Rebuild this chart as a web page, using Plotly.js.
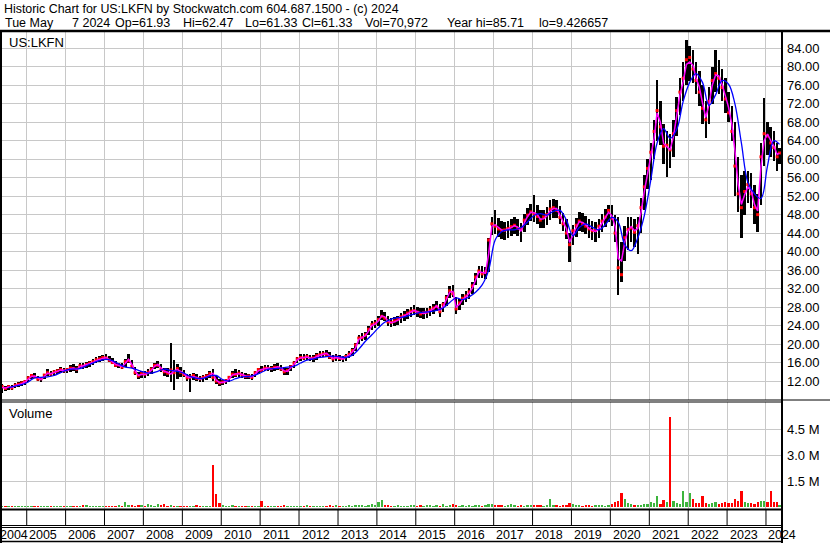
<!DOCTYPE html>
<html>
<head>
<meta charset="utf-8">
<script src="https://cdn.plot.ly/plotly-3.0.1.min.js"></script>
<style>
  html, body { margin: 0; padding: 0; background: #ffffff; }
  #chart { width: 830px; height: 543px; }
</style>
</head>
<body>
<div id="chart"></div>
<script>
// ---------------- DATA (monthly, May 2004 .. May 2024) ----------------
const startYear = 2004, startMonth = 5, lastDate = '2024-05-07';

const high = [
  11.3, 11.0, 11.2, 11.1, 11.5, 11.7, 12.0, 12.3,
  13.1, 13.6, 13.8, 13.2, 12.9, 13.6, 14.5, 14.2, 14.4, 14.7, 15.0, 14.9,
  14.9, 15.4, 15.6, 15.2, 15.8, 16.0, 16.1, 16.4, 16.7, 17.1, 17.4, 17.7,
  17.9, 17.4, 16.9, 16.3, 16.0, 15.8, 16.8, 17.9, 16.5, 15.1, 14.0, 14.1,
  14.1, 14.5, 15.1, 16.0, 16.4, 15.6, 14.9, 14.8, 20.2, 16.5, 15.6, 15.0,
  14.4, 13.6, 13.6, 13.8, 13.5, 13.1, 13.3, 13.6, 14.1, 14.5, 13.0, 12.4,
  12.3, 12.5, 13.2, 14.2, 14.5, 14.3, 14.0, 13.7, 13.6, 13.5, 14.2, 14.9,
  15.2, 15.4, 15.5, 15.3, 15.6, 15.8, 15.5, 15.0, 14.8, 15.5, 16.4, 17.3,
  17.8, 17.8, 17.9, 17.7, 17.6, 18.0, 18.4, 18.6, 18.8, 18.2, 17.6, 17.8,
  17.7, 17.5, 17.8, 18.4, 19.2, 20.2, 22.0, 22.4, 22.7, 23.8, 25.0, 25.3,
  26.0, 27.4, 27.0, 26.0, 25.6, 25.8, 26.1, 26.8, 27.2, 27.6, 28.0, 28.4,
  28.1, 27.8, 27.7, 27.9, 28.3, 28.7, 29.4, 28.6, 29.2, 30.7, 32.5, 32.8,
  30.2, 29.8, 30.8, 31.4, 32.2, 33.4, 35.3, 36.9, 36.8, 36.6, 43.0, 47.5,
  49.0, 47.2, 46.6, 46.3, 46.6, 47.0, 47.4, 47.1, 46.2, 48.1, 49.5, 50.4,
  52.2, 50.0, 49.0, 49.0, 49.7, 51.1, 51.3, 51.2, 49.8, 48.4, 47.0, 44.0,
  45.8, 47.2, 48.5, 48.3, 47.8, 47.0, 46.6, 46.3, 47.0, 48.2, 49.3, 50.0,
  50.0, 48.0, 47.5, 42.0, 45.5, 47.5, 47.5, 47.0, 47.5, 51.5, 56.5, 60.0,
  63.5, 68.5, 77.2, 72.5, 67.5, 66.0, 65.5, 68.5, 73.5, 77.5, 81.0, 85.7,
  84.5, 83.5, 81.0, 79.0, 76.0, 72.5, 75.5, 80.0, 83.5, 81.5, 79.5, 77.5,
  74.5, 71.5, 68.0, 60.5, 56.5, 57.5, 57.5, 57.0, 54.5, 52.5, 63.5, 73.2,
  68.0, 67.0, 66.0, 63.5, 62.5
];

const low = [
  9.4, 9.9, 10.1, 10.1, 10.5, 10.7, 10.9, 11.2,
  11.8, 12.5, 12.6, 12.0, 11.7, 12.4, 13.1, 13.0, 13.2, 13.5, 13.8, 13.7,
  13.7, 14.0, 14.2, 13.8, 14.5, 14.7, 14.9, 15.1, 15.4, 15.8, 16.1, 16.3,
  16.5, 16.1, 15.6, 15.0, 14.8, 14.5, 15.1, 16.0, 14.9, 13.3, 12.4, 12.7,
  12.6, 13.0, 13.6, 14.5, 14.9, 14.0, 13.2, 12.9, 11.8, 10.0, 12.4, 12.9,
  12.8, 12.0, 9.6, 12.2, 12.1, 11.7, 11.9, 12.2, 12.6, 12.0, 11.3, 11.0,
  11.1, 11.3, 11.8, 12.6, 12.8, 12.9, 12.7, 12.5, 12.4, 12.3, 12.9, 13.6,
  13.9, 14.1, 14.2, 14.0, 14.2, 14.4, 14.1, 13.4, 13.4, 14.1, 14.9, 15.9,
  16.3, 16.5, 16.6, 16.3, 16.2, 16.6, 16.9, 17.1, 17.3, 16.7, 16.1, 16.4,
  16.3, 16.1, 16.4, 16.9, 17.5, 18.4, 20.1, 20.6, 20.9, 21.9, 23.1, 23.4,
  24.0, 25.1, 24.9, 23.9, 23.6, 23.8, 24.1, 24.6, 25.0, 25.4, 25.8, 26.2,
  25.9, 25.6, 25.5, 25.7, 26.1, 26.5, 27.2, 25.9, 27.0, 28.3, 30.0, 30.1,
  26.6, 27.4, 28.4, 29.0, 29.8, 30.8, 32.7, 34.3, 34.2, 34.0, 35.5, 43.5,
  43.8, 43.2, 42.8, 42.6, 42.9, 43.3, 43.7, 43.4, 42.0, 44.3, 45.7, 46.6,
  46.4, 46.0, 45.0, 45.1, 45.7, 46.8, 47.3, 47.3, 45.9, 44.5, 42.8, 37.8,
  41.5, 43.2, 44.5, 44.3, 43.8, 43.0, 42.6, 42.0, 43.0, 44.2, 45.3, 46.5,
  45.5, 42.0, 30.6, 33.5, 38.0, 40.3, 42.0, 41.0, 39.5, 44.0, 49.0, 53.5,
  55.5, 60.0, 64.0, 63.0, 59.0, 56.2, 58.0, 60.5, 65.0, 69.5, 72.5, 76.0,
  77.0, 76.5, 74.0, 71.5, 67.5, 64.5, 67.5, 72.0, 74.5, 74.0, 72.5, 70.0,
  68.0, 64.0, 52.0, 48.5, 42.9, 48.0, 50.5, 49.5, 46.0, 44.3, 50.0, 58.5,
  61.0, 60.5, 59.5, 57.5, 59.0
];

const close = [
  10.8, 10.4, 10.8, 10.5, 11.1, 11.3, 11.6, 11.9,
  12.7, 13.2, 12.9, 12.4, 12.5, 13.3, 13.8, 13.5, 14.0, 14.2, 14.5, 14.2,
  14.5, 14.8, 14.7, 14.6, 15.3, 15.2, 15.6, 15.9, 16.2, 16.6, 16.8, 17.1,
  17.0, 16.5, 16.0, 15.4, 15.5, 15.0, 16.2, 16.4, 15.2, 13.8, 13.1, 13.6,
  13.5, 13.9, 14.6, 15.4, 15.4, 14.5, 14.0, 13.7, 14.4, 13.8, 14.7, 13.9,
  13.4, 12.7, 12.9, 13.2, 12.6, 12.5, 12.8, 13.1, 13.6, 12.8, 12.0, 11.6,
  11.8, 12.1, 12.8, 13.5, 13.4, 13.7, 13.3, 13.0, 13.1, 12.8, 13.8, 14.5,
  14.3, 14.8, 14.7, 14.7, 15.0, 14.9, 14.6, 14.0, 14.3, 15.1, 15.9, 16.8,
  17.1, 17.0, 17.3, 16.9, 17.0, 17.5, 17.7, 17.9, 17.8, 17.2, 16.8, 17.2,
  16.9, 16.9, 17.3, 17.8, 18.6, 19.8, 21.3, 21.4, 22.0, 23.2, 24.2, 24.5,
  25.3, 26.0, 25.6, 24.8, 24.7, 25.0, 25.3, 25.9, 26.2, 26.7, 27.1, 27.2,
  26.9, 26.5, 26.8, 26.9, 27.4, 27.8, 28.1, 27.0, 28.6, 30.0, 31.5, 30.9,
  27.6, 28.9, 29.9, 30.4, 31.3, 32.6, 34.5, 35.8, 35.2, 35.6, 42.5, 46.0,
  45.5, 44.9, 44.6, 44.7, 45.0, 45.4, 45.7, 45.0, 44.9, 46.8, 47.9, 48.6,
  48.2, 47.6, 46.8, 47.5, 48.0, 49.2, 49.5, 48.9, 47.4, 46.0, 44.0, 41.5,
  44.5, 45.7, 46.6, 46.0, 45.5, 44.9, 44.5, 44.6, 45.5, 46.6, 47.5, 48.9,
  47.2, 44.0, 36.5, 35.0, 43.0, 44.8, 45.1, 44.2, 45.6, 49.5, 54.0, 58.0,
  61.5, 66.0, 70.5, 67.0, 62.8, 63.0, 62.0, 65.5, 70.5, 74.5, 77.5, 81.5,
  82.0, 79.5, 77.0, 74.5, 71.0, 68.5, 72.5, 77.0, 78.5, 77.5, 75.5, 73.0,
  70.0, 66.0, 58.5, 52.5, 49.5, 53.0, 54.5, 52.5, 49.5, 48.0, 60.5, 65.5,
  65.0, 63.5, 62.5, 60.5, 61.33
];

// short moving average (magenta), monthly
const maShort = [
  10.6, 10.5, 10.7, 10.6, 11.0, 11.2, 11.4, 11.8,
  12.5, 13.0, 13.1, 12.6, 12.3, 13.0, 13.7, 13.6, 13.8, 14.1, 14.4, 14.3,
  14.3, 14.6, 14.8, 14.5, 15.1, 15.3, 15.5, 15.7, 16.0, 16.4, 16.7, 16.9,
  17.1, 16.7, 16.2, 15.6, 15.4, 15.1, 15.8, 16.7, 15.6, 14.2, 13.2, 13.4,
  13.4, 13.7, 14.3, 15.2, 15.6, 14.8, 14.1, 13.9, 13.5, 14.2, 14.5, 14.1,
  13.6, 12.9, 12.7, 13.0, 12.8, 12.4, 12.6, 12.9, 13.3, 13.7, 12.2, 11.7,
  11.7, 11.9, 12.4, 13.3, 13.5, 13.6, 13.4, 13.1, 13.0, 12.9, 13.5, 14.2,
  14.5, 14.7, 14.8, 14.6, 14.8, 15.1, 14.8, 14.2, 14.1, 14.8, 15.6, 16.6,
  17.0, 17.1, 17.2, 17.0, 16.9, 17.3, 17.6, 17.8, 18.0, 17.4, 16.9, 17.1,
  17.0, 16.8, 17.1, 17.6, 18.3, 19.2, 21.0, 21.5, 21.8, 22.8, 24.0, 24.3,
  25.0, 26.1, 25.9, 25.0, 24.6, 24.8, 25.1, 25.7, 26.1, 26.5, 26.9, 27.3,
  27.0, 26.7, 26.6, 26.8, 27.2, 27.6, 28.3, 27.3, 28.1, 29.5, 31.2, 31.4,
  28.0, 28.6, 29.6, 30.2, 31.0, 32.1, 34.0, 35.6, 35.5, 35.3, 39.5, 45.5,
  45.8, 45.2, 44.7, 44.5, 44.8, 45.2, 45.6, 45.3, 44.4, 46.2, 47.6, 48.5,
  48.4, 48.0, 47.0, 47.1, 47.7, 48.8, 49.3, 49.3, 47.9, 46.5, 45.0, 42.0,
  43.8, 45.2, 46.5, 46.3, 45.8, 45.0, 44.6, 44.3, 45.0, 46.2, 47.3, 48.5,
  47.8, 45.5, 38.5, 38.0, 42.0, 44.6, 45.4, 44.5, 45.0, 48.5, 53.0, 57.0,
  60.5, 64.5, 70.0, 68.0, 63.4, 62.6, 62.0, 64.8, 69.8, 73.8, 76.8, 80.5,
  81.0, 80.3, 77.6, 75.6, 72.2, 69.0, 71.8, 76.0, 78.2, 78.0, 76.2, 74.0,
  71.2, 67.5, 62.0, 54.5, 50.2, 52.3, 54.0, 53.2, 50.2, 48.8, 58.5, 64.0,
  65.4, 64.0, 62.8, 61.0, 61.3
];

// long moving average (blue), every second month starting July 2004
const maLongFirstIndex = 2, maLongStep = 2;
const maLong = [
  10.6, 10.9, 11.2, 11.8, 12.7, 12.8, 12.9, 13.2, 13.8, 14.4,
  14.6, 14.7, 15.3, 15.9, 16.4, 16.7, 16.4, 15.7, 15.0, 14.8,
  14.3, 13.9, 13.7, 14.1, 14.6, 14.3, 14.1, 13.7, 13.0, 12.6,
  12.6, 13.1, 13.2, 12.3, 12.0, 12.5, 12.9, 13.0, 13.3, 13.9,
  14.5, 14.7, 14.8, 15.0, 15.2, 15.9, 16.5, 16.8, 17.1, 17.3,
  17.4, 17.3, 17.1, 17.6, 18.9, 20.6, 22.0, 23.5, 24.7, 25.4,
  25.7, 25.9, 26.3, 26.7, 26.9, 27.0, 27.3, 27.8, 29.0, 30.0,
  29.6, 30.2, 31.2, 32.8, 36.0, 42.5, 44.3, 44.7, 44.7, 45.2,
  46.4, 47.8, 48.2, 47.9, 48.7, 48.9, 46.8, 43.4, 45.2, 46.0,
  45.3, 44.7, 45.8, 47.4, 46.4, 41.5, 40.2, 43.0, 47.8, 55.5,
  63.5, 66.6, 64.5, 66.4, 72.5, 76.6, 78.5, 76.6, 71.6, 73.9,
  77.0, 76.2, 72.0, 63.5, 55.0, 52.5, 51.5, 58.5, 64.0, 63.2
];

// volume in millions of shares
const volume = [
  0.10, 0.06, 0.05, 0.07, 0.05, 0.06, 0.08, 0.05,
  0.06, 0.05, 0.09, 0.07, 0.06, 0.05, 0.10, 0.06, 0.05, 0.07, 0.06, 0.05,
  0.06, 0.05, 0.07, 0.08, 0.06, 0.12, 0.15, 0.07, 0.06, 0.08, 0.05, 0.06,
  0.08, 0.10, 0.07, 0.09, 0.12, 0.08, 0.30, 0.15, 0.12, 0.10, 0.14, 0.12,
  0.09, 0.20, 0.14, 0.10, 0.16, 0.12, 0.18, 0.10, 0.15, 0.10, 0.09, 0.08,
  0.10, 0.08, 0.07, 0.09, 0.12, 0.06, 0.07, 0.08, 0.10, 2.42, 0.78, 0.27,
  0.12, 0.10, 0.08, 0.12, 0.09, 0.07, 0.08, 0.06, 0.07, 0.06, 0.08, 0.10,
  0.37, 0.09, 0.08, 0.10, 0.07, 0.09, 0.08, 0.12, 0.10, 0.08, 0.07, 0.09,
  0.10, 0.08, 0.12, 0.09, 0.08, 0.10, 0.07, 0.06, 0.09, 0.12, 0.08, 0.11,
  0.10, 0.09, 0.08, 0.12, 0.10, 0.13, 0.15, 0.11, 0.09, 0.14, 0.16, 0.12,
  0.29, 0.40, 0.15, 0.12, 0.10, 0.09, 0.11, 0.08, 0.10, 0.09, 0.12, 0.13,
  0.10, 0.12, 0.09, 0.11, 0.15, 0.10, 0.12, 0.09, 0.18, 0.10, 0.14, 0.16,
  0.12, 0.10, 0.13, 0.09, 0.11, 0.10, 0.12, 0.15, 0.10, 0.12, 0.18, 0.16,
  0.15, 0.12, 0.14, 0.10, 0.12, 0.18, 0.11, 0.10, 0.12, 0.10, 0.14, 0.12,
  0.13, 0.11, 0.12, 0.10, 0.14, 0.46, 0.12, 0.12, 0.10, 0.13, 0.15, 0.22,
  0.20, 0.15, 0.12, 0.10, 0.11, 0.14, 0.10, 0.12, 0.11, 0.13, 0.10, 0.12,
  0.16, 0.30, 0.35, 0.85, 0.46, 0.25, 0.20, 0.15, 0.12, 0.14, 0.18, 0.20,
  0.30, 0.25, 0.66, 0.20, 0.40, 0.30, 5.23, 0.35, 0.22, 0.20, 0.94, 0.28,
  0.85, 0.46, 0.25, 0.22, 0.66, 0.25, 0.20, 0.22, 0.30, 0.20, 0.25, 0.30,
  0.25, 0.22, 0.45, 0.35, 0.94, 0.30, 0.25, 0.22, 0.20, 0.30, 0.37, 0.35,
  0.30, 0.94, 0.28, 0.30, 0.12
];

const priceTicks = [12, 16, 20, 24, 28, 32, 36, 40, 44, 48, 52, 56, 60, 64, 68, 72, 76, 80, 84];
const volumeTicks = [1.5, 3.0, 4.5];
const volumeTickText = ['1.5 M', '3.0 M', '4.5 M'];
const yearLabels = ['2004','2005','2006','2007','2008','2009','2010','2011','2012','2013','2014',
                    '2015','2016','2017','2018','2019','2020','2021','2022','2023','2024'];

const headerLine1 = 'Historic Chart for US:LKFN by Stockwatch.com 604.687.1500 - (c) 2024';
const headerLine2 = [
  ['Tue May', 5], ['7 2024', 71.5], ['Op=61.93', 115], ['Hi=62.47', 182.5],
  ['Lo=61.33', 245], ['Cl=61.33', 302], ['Vol=70,972', 365],
  ['Year hi=85.71', 447], ['lo=9.426657', 539]
];

// ---------------- BUILD ----------------
const N = high.length;
[low, close, maShort, volume].forEach(a => { if (a.length !== N) throw new Error('length mismatch ' + a.length + ' vs ' + N); });

const dates = [];
for (let i = 0; i < N; i++) {
  const mIdx = startMonth - 1 + i;
  const y = startYear + Math.floor(mIdx / 12);
  const m = (mIdx % 12) + 1;
  dates.push(y + '-' + String(m).padStart(2, '0') + '-15');
}
dates[N - 1] = lastDate;
const maLongDates = maLong.map((_, k) => dates[maLongFirstIndex + k * maLongStep]);

const range = high.map((h, i) => h - low[i]);
const volColors = volume.map((v, i) => (i === 0 || close[i] >= close[i - 1]) ? '#3cb43c' : '#ff0000');

const DAY = 86400000;
const FONT = 'Liberation Sans, Arial, Helvetica, sans-serif';

// pixel helpers for decorations (plot area: x 2..781, y 32..509)
const L = 2, R = 781, T = 32, B = 509;
const px = v => (v - L) / (R - L);
const py = v => (B - v) / (B - T);

const traces = [
  { type: 'bar', x: dates, y: range, base: low, width: 24 * DAY,
    marker: { color: '#000000', line: { width: 0 } }, xaxis: 'x', yaxis: 'y', hoverinfo: 'skip' },
  { type: 'scatter', mode: 'markers', x: dates, y: close,
    marker: { symbol: 'square', size: 3, color: '#ff0000', line: { width: 0 } },
    xaxis: 'x', yaxis: 'y', hoverinfo: 'skip' },
  { type: 'scatter', mode: 'lines', x: dates, y: maShort,
    line: { color: '#ff00ff', width: 1.5 }, xaxis: 'x', yaxis: 'y', hoverinfo: 'skip' },
  { type: 'scatter', mode: 'lines', x: maLongDates, y: maLong,
    line: { color: '#0000ff', width: 1.3, shape: 'spline' }, xaxis: 'x', yaxis: 'y', hoverinfo: 'skip' },
  { type: 'bar', x: dates, y: volume, width: 22 * DAY,
    marker: { color: volColors, line: { width: 0 } }, xaxis: 'x', yaxis: 'y2', hoverinfo: 'skip' }
];

const hline = (x0, x1, y, w) => ({ type: 'line', xref: 'paper', yref: 'paper',
  x0: px(x0), x1: px(x1), y0: py(y), y1: py(y), line: { color: '#000000', width: w } });
const vline = (x, y0, y1, w) => ({ type: 'line', xref: 'paper', yref: 'paper',
  x0: px(x), x1: px(x), y0: py(y0), y1: py(y1), line: { color: '#000000', width: w } });

const shapes = [
  hline(0, 830, 31, 2.5),
  hline(0, 830, 400, 1),
  hline(0, 781, 402, 1),
  hline(0, 781, 509.5, 2),
  hline(0, 781, 525.5, 1),
  hline(0, 781, 527.5, 1),
  hline(0, 781, 541.5, 1.5),
  vline(1, 31, 543, 2),
  vline(782, 31, 543, 2)
];
yearLabels.slice(1).forEach(yr => {
  shapes.push({ type: 'line', xref: 'x', yref: 'paper', x0: yr + '-01-01', x1: yr + '-01-01',
    y0: py(510), y1: py(525.5), line: { color: '#000000', width: 1 } });
});

const annotations = [];
const txt = (text, x, y, size) => ({ text: text, xref: 'paper', yref: 'paper',
  x: px(x), y: py(y), xanchor: 'left', yanchor: 'middle', showarrow: false,
  borderpad: 0, borderwidth: 0, font: { family: FONT, size: size || 13, color: '#000000' } });
annotations.push(txt(headerLine1, 4, 9, 12.4));
headerLine2.forEach(([t, x]) => annotations.push(txt(t, x, 22.5, 12.5)));
annotations.push(txt('US:LKFN', 9, 42));
annotations.push(txt('Volume', 9, 413));
yearLabels.forEach((yr, i) => {
  if (i === 0) {
    annotations.push(txt(yr, 0, 534.5, 12.5));
  } else {
    annotations.push({ text: yr, xref: 'x', yref: 'paper', x: yr + '-01-01', y: py(534.5),
      xanchor: 'left', yanchor: 'middle', xshift: 2.5, showarrow: false, borderpad: 0, borderwidth: 0,
      font: { family: FONT, size: 12.5, color: '#000000' } });
  }
});

const layout = {
  width: 830, height: 543,
  margin: { l: L, r: 830 - R, t: T, b: 543 - B, pad: 0 },
  paper_bgcolor: '#ffffff', plot_bgcolor: '#ffffff',
  showlegend: false, barmode: 'overlay', bargap: 0,
  font: { family: FONT, size: 13, color: '#000000' },
  xaxis: {
    type: 'date', range: ['2004-05-14', '2024-05-21'],
    showgrid: true, gridcolor: '#c8c8c8', gridwidth: 1,
    dtick: 'M12', tick0: '2005-01-01', showticklabels: false, ticks: '',
    zeroline: false, showline: false, fixedrange: true
  },
  yaxis: {
    domain: [py(400), 1], range: [7.9, 87.5], side: 'right', anchor: 'x',
    tickmode: 'array', tickvals: priceTicks, tickformat: '.2f',
    showgrid: true, gridcolor: '#c8c8c8', gridwidth: 1, zeroline: false, showline: false,
    ticks: '', ticklabelstandoff: 5,
    tickfont: { family: FONT, size: 13, color: '#000000' }
  },
  yaxis2: {
    domain: [0, py(402)], range: [-0.1, 6.07], side: 'right', anchor: 'x',
    tickmode: 'array', tickvals: volumeTicks, ticktext: volumeTickText,
    showgrid: true, gridcolor: '#c8c8c8', gridwidth: 1, zeroline: false, showline: false,
    ticks: '', ticklabelstandoff: 5,
    tickfont: { family: FONT, size: 13, color: '#000000' }
  },
  shapes: shapes,
  annotations: annotations
};

Plotly.newPlot('chart', traces, layout, { displayModeBar: false, staticPlot: true });
</script>
</body>
</html>
